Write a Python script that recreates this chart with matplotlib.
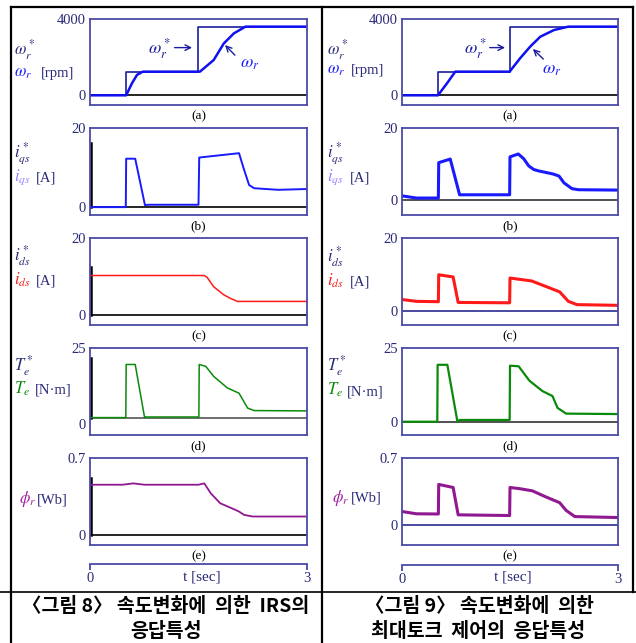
import matplotlib
matplotlib.use("Agg")
import matplotlib.pyplot as plt
from matplotlib.lines import Line2D

plt.rcParams['font.family'] = ['Liberation Serif', 'DejaVu Serif']
plt.rcParams['mathtext.fontset'] = 'stix'

W, H = 636, 643

# ---- data (time in s) ----
# (a) speed
ref_t = [0, 0.5, 0.5, 1.5, 1.5, 3.0]
ref_w = [0, 0, 1240, 1240, 3600, 3600]
wL_t = [0, 0.50, 0.58, 0.65, 0.73, 1.52, 1.71, 1.85, 1.99, 2.15, 3.0]
wL = [0, 0, 630, 1070, 1240, 1240, 1850, 2720, 3250, 3600, 3600]
wR_t = [0, 0.50, 0.625, 0.74, 1.495, 1.64, 1.78, 1.92, 2.11, 2.31, 3.0]
wR = [0, 0, 630, 1240, 1240, 1940, 2550, 3070, 3420, 3600, 3600]

# (b) q-axis current
iqL_t = [0, 0.495, 0.50, 0.625, 0.76, 0.80, 1.50, 1.51, 2.06, 2.13, 2.20, 2.27, 2.60, 3.0]
iqL = [-0.1, -0.1, 12.2, 12.2, 0.4, 0.5, 0.5, 12.5, 13.6, 9.4, 5.5, 4.7, 4.3, 4.5]
iqR_t = [0, 0.1, 0.2, 0.505, 0.51, 0.67, 0.80, 1.495, 1.50, 1.615, 1.69, 1.76, 1.83,
         1.90, 2.09, 2.18, 2.25, 2.36, 2.45, 3.0]
iqR = [1.2, 0.9, 0.6, 0.6, 10.4, 11.4, 1.5, 1.5, 12.0, 12.8, 11.5, 9.5, 8.5,
       8.1, 7.3, 6.7, 4.8, 3.2, 2.9, 2.8]

# (c) d-axis current
idL_t = [0, 1.58, 1.62, 1.71, 1.85, 1.95, 2.04, 3.0]
idL = [10.3, 10.3, 9.8, 7.4, 5.3, 4.3, 3.6, 3.6]
idR_t = [0, 0.2, 0.505, 0.51, 0.71, 0.78, 1.495, 1.50, 1.80, 2.01, 2.19, 2.31, 2.43, 3.0]
idR = [3.1, 2.6, 2.5, 9.9, 9.3, 2.3, 2.2, 9.0, 8.2, 6.6, 5.2, 2.6, 1.7, 1.5]

# (d) torque
teL_t = [0, 0.495, 0.50, 0.625, 0.755, 0.77, 1.505, 1.51, 1.60, 1.71, 1.90, 2.06, 2.18, 2.27, 3.0]
teL = [2.2, 2.2, 19.6, 19.6, 2.2, 2.4, 2.4, 19.6, 19.0, 15.7, 11.9, 10.2, 5.3, 4.5, 4.4]
teR_t = [0, 0.49, 0.495, 0.63, 0.77, 0.80, 1.495, 1.50, 1.62, 1.77, 1.95, 2.09, 2.16, 2.28, 3.0]
teR = [0, 0, 19.3, 19.3, 0, 0.6, 0.6, 19.0, 18.8, 13.9, 10.4, 8.7, 4.7, 2.75, 2.6]

# (e) rotor flux
fL_t = [0, 0.45, 0.6, 0.75, 1.50, 1.58, 1.67, 1.80, 1.99, 2.06, 2.13, 2.25, 3.0]
fL = [0.458, 0.458, 0.47, 0.458, 0.458, 0.47, 0.38, 0.29, 0.236, 0.215, 0.185, 0.17, 0.17]
fR_t = [0, 0.2, 0.505, 0.51, 0.71, 0.78, 1.495, 1.50, 1.63, 1.81, 2.00, 2.19, 2.28, 2.40, 3.0]
fR = [0.141, 0.117, 0.115, 0.424, 0.392, 0.106, 0.099, 0.392, 0.38, 0.357, 0.293, 0.233,
      0.152, 0.088, 0.078]

# initial reference spikes at t=0 (left column)
spike_b = 16.2
spike_c = 12.4
spike_d = 21.8
spike_e = 0.518

tops = [4000, 20, 20, 25, 0.7]
top_labels = ['4000', '20', '20', '25', '0.7']
ylimL = [-508, -2.1, -2.5, -3.5, -0.088]
ylimR = [-508, -4.1, -3.9, -4.5, -0.209]
sub_labels = ['(a)', '(b)', '(c)', '(d)', '(e)']
rows_px = [(19, 105), (128, 215), (238, 325), (348, 435), (458, 545)]

FRAME = '#4a4aa8'
NAVY = '#2a2a78'
BLUE = '#1a1aff'
RED = '#ff1a1a'
GREEN = '#0a8a0a'
PURPLE = '#901890'


def rect(x0, y0, x1, y1):
    return [x0 / W, 1 - y1 / H, (x1 - x0) / W, (y1 - y0) / H]


fig = plt.figure(figsize=(6.36, 6.43), dpi=100)

cols = [(90, 307), (402, 618)]
axes = {}
for c, (x0, x1) in enumerate(cols):
    for r, (y0, y1) in enumerate(rows_px):
        ax = fig.add_axes(rect(x0, y0, x1, y1))
        ax.set_xlim(0, 3)
        ax.set_ylim((ylimL if c == 0 else ylimR)[r], tops[r])
        ax.set_xticks([])
        ax.set_yticks([0, tops[r]])
        ax.set_yticklabels(['0', top_labels[r]])
        ax.tick_params(axis='y', length=0, pad=3, labelsize=10.5, labelcolor=NAVY)
        for s in ax.spines.values():
            s.set_color(FRAME)
            s.set_linewidth(1.3)
        xc = (x0 + x1) / 2
        fig.text(xc / W, 1 - (y1 + 11) / H, sub_labels[r], ha='center', va='center',
                 fontsize=9.5, color='black')
        axes[(c, r)] = ax

lwL, lwR = 1.1, 2.2

# (a)
for c, (wt, w) in enumerate([(wL_t, wL), (wR_t, wR)]):
    ax = axes[(c, 0)]
    ax.axhline(0, color='black', lw=1.2)
    ax.plot(ref_t, ref_w, color='#1c1ca0', lw=1.2)
    ax.plot(wt, w, color='#1010f0', lw=1.8)

ax = axes[(0, 0)]
ax.annotate('', xy=(1.45, 2500), xytext=(1.13, 2500),
            arrowprops=dict(arrowstyle='->', color='#1c1ca0', lw=1))
ax.text(1.12, 2450, r'$\omega_r^*$', ha='right', va='center', fontsize=13, color='#1c1ca0')
ax.annotate('', xy=(1.84, 2740), xytext=(2.03, 2000),
            arrowprops=dict(arrowstyle='->', color='#1c1ca0', lw=1))
ax.text(2.08, 1650, r'$\omega_r$', ha='left', va='center', fontsize=13, color=BLUE)

ax = axes[(1, 0)]
ax.annotate('', xy=(1.47, 2500), xytext=(1.18, 2500),
            arrowprops=dict(arrowstyle='->', color='#1c1ca0', lw=1))
ax.text(1.17, 2450, r'$\omega_r^*$', ha='right', va='center', fontsize=13, color='#1c1ca0')
ax.annotate('', xy=(1.79, 2530), xytext=(1.99, 1800),
            arrowprops=dict(arrowstyle='->', color='#1c1ca0', lw=1))
ax.text(1.95, 1350, r'$\omega_r$', ha='left', va='center', fontsize=13, color=BLUE)

# (b)
axes[(0, 1)].axhline(0, color='black', lw=1.2)
axes[(0, 1)].plot([0.01, 0.01], [0, spike_b], color='black', lw=1.8)
axes[(0, 1)].plot(iqL_t, iqL, color=BLUE, lw=lwL + 0.3)
axes[(1, 1)].axhline(0, color='#333333', lw=1.2)
axes[(1, 1)].plot(iqR_t, iqR, color=BLUE, lw=lwR)

# (c)
axes[(0, 2)].axhline(0, color='black', lw=1.2)
axes[(0, 2)].plot([0.01, 0.01], [0, spike_c], color='black', lw=1.8)
axes[(0, 2)].plot(idL_t, idL, color=RED, lw=lwL)
axes[(1, 2)].axhline(0, color='#2a2a90', lw=1.2)
axes[(1, 2)].plot(idR_t, idR, color=RED, lw=lwR)

# (d)
axes[(0, 3)].axhline(teL[0], color='#555555', lw=1.2)
axes[(0, 3)].plot([0.01, 0.01], [teL[0], spike_d], color='black', lw=1.8)
axes[(0, 3)].plot(teL_t, teL, color=GREEN, lw=lwL)
axes[(1, 3)].axhline(0, color='#333333', lw=1.2)
axes[(1, 3)].plot(teR_t, teR, color=GREEN, lw=lwR - 0.6)

# (e)
axes[(0, 4)].axhline(0, color='black', lw=1.2)
axes[(0, 4)].plot([0.01, 0.01], [0, spike_e], color='black', lw=1.8)
axes[(0, 4)].plot(fL_t, fL, color=PURPLE, lw=lwL + 0.2)
axes[(1, 4)].axhline(0, color='#2a2a90', lw=1.2)
axes[(1, 4)].plot(fR_t, fR, color=PURPLE, lw=lwR)

# time axes
for (x0, x1), ty in zip(cols, [564, 565]):
    tax = fig.add_axes(rect(x0, ty - 1, x1, ty))
    tax.set_xlim(0, 3)
    tax.set_yticks([])
    for k in ['top', 'left', 'right']:
        tax.spines[k].set_visible(False)
    tax.spines['bottom'].set_color(FRAME)
    tax.spines['bottom'].set_linewidth(1.3)
    tax.set_xticks([0, 3])
    tax.set_xticklabels(['0', '3'])
    tax.tick_params(axis='x', direction='out', length=4, width=1.3, color=FRAME,
                    pad=1.5, labelsize=10.5, labelcolor=NAVY)
    tax.patch.set_visible(False)
    fig.text((x0 + x1) / 2 / W + 0.005, 1 - 577 / H, 't [sec]', ha='center', va='center',
             fontsize=11, color=NAVY)

# y-axis labels
sym_star = [r'$\omega_r^*$', r'$i_{qs}^*$', r'$i_{ds}^*$', r'$T_e^*$']
sym = [r'$\omega_r$', r'$i_{qs}$', r'$i_{ds}$', r'$T_e$', r'$\phi_r$']
sym_col = [BLUE, '#9a80ff', RED, GREEN, '#a020a0']
units = ['[rpm]', '[A]', '[A]', '[N·m]', '[Wb]']
star_base = [[55, 157, 261, 371], [55, 157, 262, 371]]
line_base = [[77, 181, 285, 394, 503], [74, 181, 286, 395, 502]]
sym_x = [[14, 14, 14, 14, 19], [327, 327, 327, 327, 332]]
unit_x = [[41, 36, 36, 35, 37], [351, 350, 350, 347, 351]]

for c in range(2):
    for r in range(5):
        if r < 4:
            fig.text(sym_x[c][r] / W, 1 - star_base[c][r] / H, sym_star[r], ha='left',
                     va='baseline', fontsize=12, color=NAVY)
        fig.text(sym_x[c][r] / W, 1 - line_base[c][r] / H, sym[r], ha='left',
                 va='baseline', fontsize=12, color=sym_col[r])
        fig.text(unit_x[c][r] / W, 1 - line_base[c][r] / H, units[r], ha='left',
                 va='baseline', fontsize=10.5, color=NAVY)

# frame lines
def hline(y, x0, x1, lw=1.6):
    fig.add_artist(Line2D([x0 / W, x1 / W], [1 - y / H, 1 - y / H], color='black', lw=lw))


def vline(x, y0, y1, lw=1.6):
    fig.add_artist(Line2D([x / W, x / W], [1 - y0 / H, 1 - y1 / H], color='black', lw=lw))


hline(7.3, 11, 633.3)
hline(591.5, 0, 636, lw=1.2)
vline(11, 7.3, 643)
vline(321.5, 7.3, 643)
vline(633.3, 7.3, 591.5)

# captions
cap_kw = dict(ha='center', va='center', fontsize=14, fontweight='bold',
              family=['Noto Sans CJK KR', 'DejaVu Sans'], color='black')
fig.text(165.5 / W, 1 - 606.5 / H, '〈그림 8〉 속도변화에  의한  IRS의', **cap_kw)
fig.text(165.5 / W, 1 - 631.5 / H, '응답특성', **cap_kw)
fig.text(479.5 / W, 1 - 606.5 / H, '〈그림 9〉 속도변화에  의한', **cap_kw)
fig.text(478.5 / W, 1 - 631.5 / H, '최대토크  제어의  응답특성', **cap_kw)

fig.savefig('out.png', dpi=100)
